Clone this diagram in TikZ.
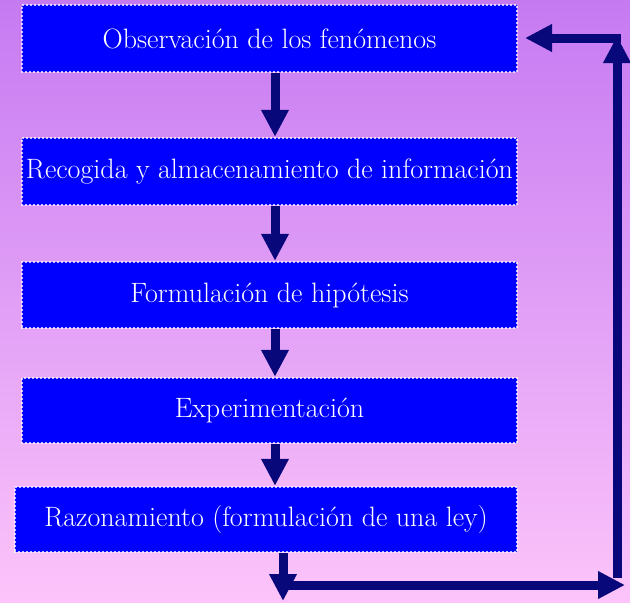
\documentclass[tikz,border=0pt]{standalone}
\usetikzlibrary{arrows.meta}
\definecolor{bgtop}{RGB}{198,122,242}
\definecolor{bgmid}{RGB}{228,150,244}
\definecolor{bgbot}{RGB}{252,196,250}
\definecolor{boxblue}{RGB}{0,0,255}
\definecolor{navyarrow}{RGB}{8,8,122}
\tikzset{
  stepbox/.style={fill=boxblue, draw=white, line width=2.4pt, line cap=round,
    dash pattern=on 0pt off 4pt, text=white, inner sep=0pt,
    font=\fontsize{28}{32}\selectfont},
  flowarrow/.style={draw=navyarrow, line width=9pt,
    -{Triangle[width=26pt,length=27pt]}},
}
\begin{document}
\begin{tikzpicture}[x=1pt,y=-1pt]
\shade[top color=bgtop, middle color=bgmid, bottom color=bgbot] (0,0) rectangle (630,603);
\useasboundingbox (0,0) rectangle (630,603);
\node[stepbox, minimum width=495pt, minimum height=67pt] (b1) at (269.5,38.5) {Observación de los fenómenos};
\node[stepbox, minimum width=495pt, minimum height=67pt] (b2) at (269.5,171.5) {Recogida y almacenamiento de información};
\node[stepbox, minimum width=495pt, minimum height=66pt] (b3) at (269.5,295) {Formulación de hipótesis};
\node[stepbox, minimum width=495pt, minimum height=65pt] (b4) at (269.5,410.5) {Experimentación};
\node[stepbox, minimum width=502pt, minimum height=65pt] (b5) at (266,519.5) {Razonamiento (formulación de una ley)};
\draw[flowarrow] ([xshift=5.5pt]b1.south) -- ([xshift=5.5pt]b2.north);
\draw[flowarrow] ([xshift=5.5pt]b2.south) -- ([xshift=5.5pt]b3.north);
\draw[flowarrow] ([xshift=5.5pt]b3.south) -- ([xshift=5.5pt]b4.north);
\draw[flowarrow] ([xshift=5.5pt]b4.south) -- ([xshift=9pt]b5.north);
\coordinate (d0) at (283,552);
\coordinate (d1) at (283,601);
\coordinate (h0) at (287,585);
\coordinate (h1) at (625,585);
\coordinate (v0) at (617,578);
\coordinate (v1) at (617,36);
\coordinate (t0) at (621,38);
\coordinate (t1) at (525,38);
\draw[flowarrow] (b5.south -| d0) -- (d1);
\draw[flowarrow] (h0) -- (h1);
\draw[flowarrow] (v0) -- (v1);
\draw[flowarrow] (t0) -- (t1);
\end{tikzpicture}
\end{document}
